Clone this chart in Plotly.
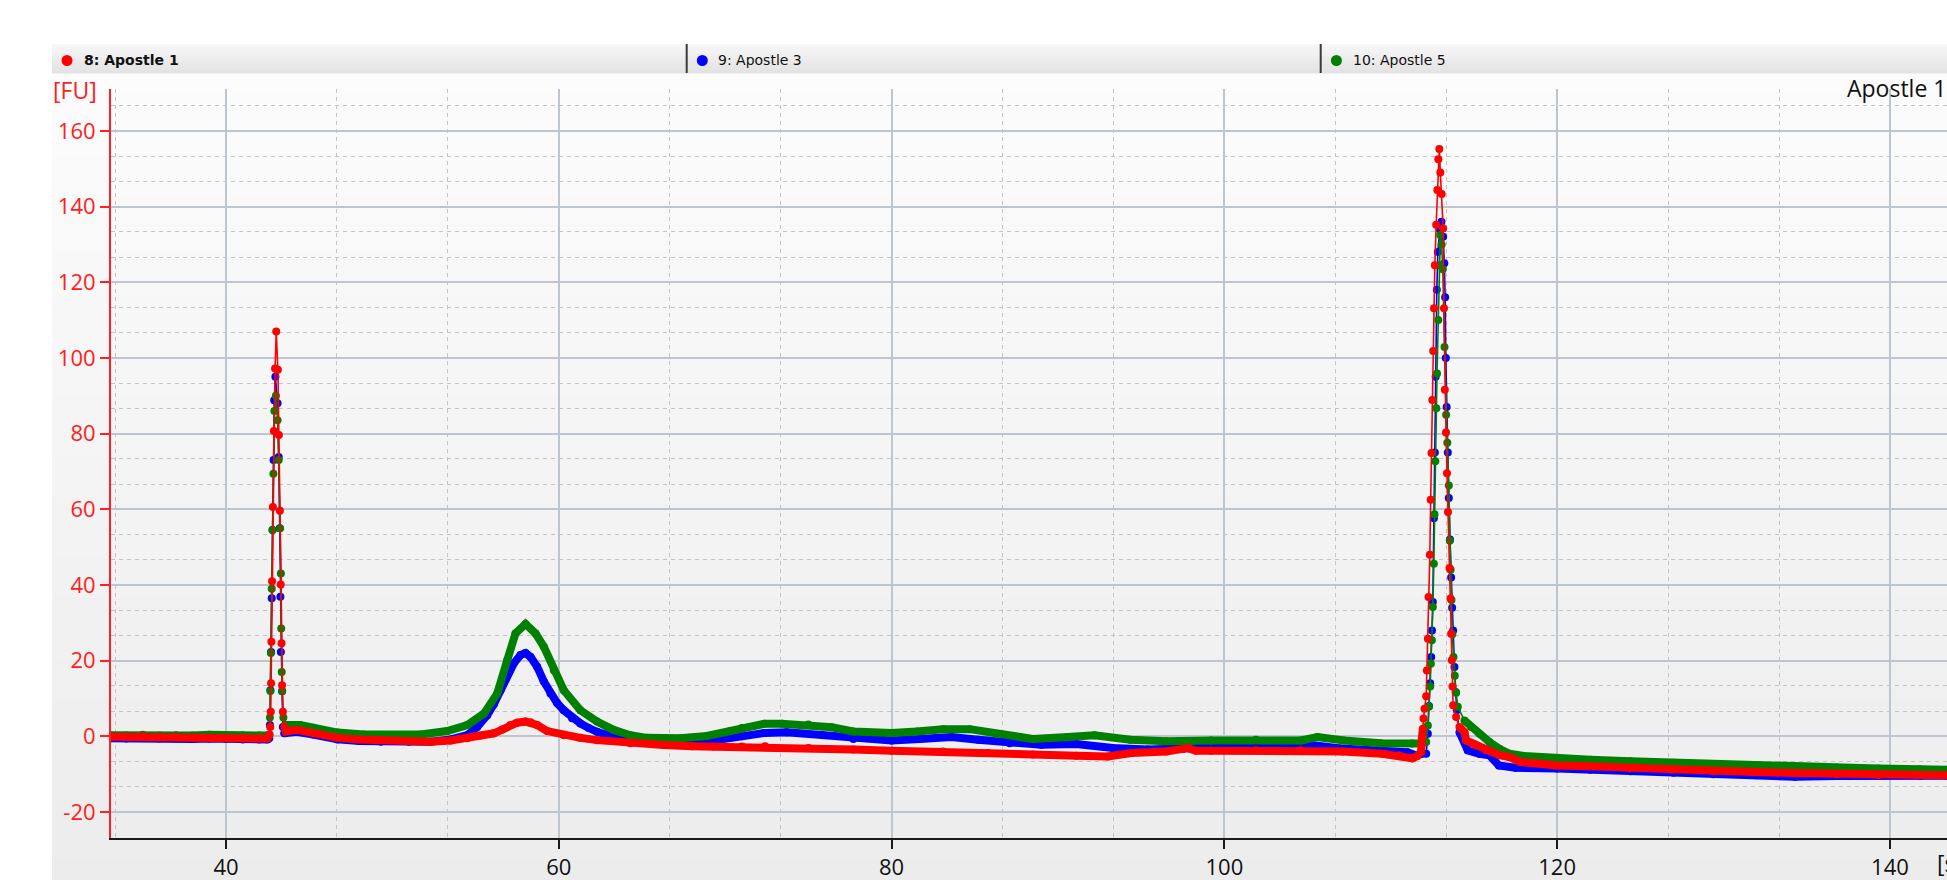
import plotly.graph_objects as go

# ---------------- data ----------------
series_names = ["8: Apostle 1", "9: Apostle 3", "10: Apostle 5"]

red_x = [33.1, 34, 35, 36, 37, 38, 39, 40, 41, 42, 42.5, 42.62, 42.66, 42.69, 42.71, 42.73, 42.77, 42.82,
         42.88, 42.95, 43.02, 43.12, 43.18, 43.24, 43.29, 43.34, 43.37, 43.42, 43.51, 43.6, 44.25, 45.25,
         46.7, 48, 49.3, 51, 52.3, 53.5, 54.5, 55.3, 56.1, 56.6, 57.1, 57.5, 58.0, 58.3, 58.7, 59.3, 60.3,
         61.3, 62.3, 64.3, 66.3, 68, 69.3, 71, 72.4, 75, 77.7, 80, 83.1, 85.8, 88.5, 91.1, 93.0, 94.4,
         96.5, 97.8, 98.3, 99.2, 101.9, 104.6, 107.1, 109.5, 110.5, 111.3, 111.6, 111.83, 111.87, 111.93,
         111.97, 112.03, 112.13, 112.17, 112.23, 112.27, 112.35, 112.4, 112.45, 112.5, 112.55, 112.6,
         112.65, 112.73, 112.8, 112.86, 112.92, 112.98, 113.06, 113.15, 113.2, 113.25, 113.32, 113.38,
         113.44, 113.53, 113.59, 113.63, 113.67, 113.71, 113.75, 113.93, 114.13, 114.43, 114.53, 115.13,
         115.73, 116.53, 117.13, 117.8, 118.8, 120, 121.9, 124.4, 126.9, 129.4, 131.9, 134.3, 136.8,
         139.3, 141.8, 143.4]
red_y = [-0.1, -0.2, 0.0, -0.3, -0.2, -0.4, -0.3, -0.5, -0.5, -0.6, -0.6, 0.5, 2.5, 6.5, 14, 25, 41, 60.6,
         80.7, 97.2, 107, 96.9, 79.6, 59.6, 40.1, 24.6, 13.5, 6.5, 2.5, 1.3, 1.7, 0.8,
         -0.4, -0.8, -1.0, -1.3, -1.4, -1.1, -0.5, 0.2, 0.8, 1.8, 3.0, 3.6, 3.9, 3.7, 3.0, 1.4, 0.3,
         -0.4, -1.0, -1.8, -2.3, -2.6, -2.7, -2.7, -2.6, -3.1, -3.5, -3.8, -4.0, -4.4, -4.8, -5.1, -5.3, -4.4,
         -4.0, -3.1, -3.8, -3.8, -3.7, -3.7, -4.0, -4.6, -5.0, -5.8, -5.2, -4.1, -0.6, 2.0,
         4.7, 7.3, 10.6, 17.4, 25.8, 36.8, 48, 62.5, 74.9, 88.9, 101.8, 113.1,
         124.5, 135.2, 144.4, 152.5, 155.2, 149, 143.3, 134.2, 113.1, 91.6, 80.3, 69.5,
         59.3, 44.5, 36.4, 27.1, 20.1, 13.2, 8.2, 5.1, 2.5, 1.1, -1.1, -2.4,
         -3.7, -5.0, -5.5, -6.8, -7.2, -7.7, -7.9, -8.4, -8.8, -9.2, -9.4, -9.7, -10.0,
         -10.3, -10.3, -10.3]

blue_x = [33.1, 34, 35, 36, 37, 38, 39, 40, 41, 42, 42.5, 42.6, 42.64, 42.67, 42.71, 42.75, 42.8, 42.86,
          42.9, 42.97, 43.1, 43.17, 43.23, 43.27, 43.3, 43.37, 43.42, 43.5, 44.25, 45.25, 46.7, 48, 49.3,
          51, 52.3, 53.5, 54.5, 55.1, 55.7, 56.1, 56.5, 56.9, 57.3, 57.7, 58.0, 58.3, 58.7, 59.1, 59.5,
          59.9, 60.3, 60.8, 61.3, 61.8, 62.3, 63.3, 64.3, 65.3, 67.3, 69.3, 71.0, 72.35, 73.7, 75.8, 77.7,
          80, 81.7, 83.6, 85.2, 87.1, 89.0, 91.1, 93.3, 95.4, 97.5, 99.2, 101.9, 104.6, 105.1, 107.0,
          109.5, 110.5, 111.0, 111.5, 111.9, 112.13, 112.23, 112.3, 112.37, 112.43, 112.48, 112.53,
          112.59, 112.65, 112.7, 112.77, 112.83, 112.95, 113.05, 113.15, 113.22, 113.27, 113.31, 113.36,
          113.43, 113.49, 113.56, 113.63, 113.69, 113.75, 113.83, 113.9, 113.97, 114.13, 114.63, 115.33,
          115.93, 116.5, 117.5, 120, 122, 124.4, 127, 129.4, 132, 134.3, 136.8, 139.3, 141.8, 143.4]
blue_y = [-0.5, -0.6, -0.4, -0.6, -0.5, -0.7, -0.6, -0.7, -0.8, -0.8, -0.8, -0.5, 3, 12.2, 22.3, 36.5, 54.5, 73,
          88.8, 95, 88, 73.8, 55, 36.9, 22.3, 11.9, 2.5, 0.8, 1.2, 0.5, -0.8, -1.2, -1.4,
          -1.4, -1.4, -0.8, 0.3, 2.5, 5.6, 8.5, 12.2, 16, 19.3, 21.5, 22, 21, 18.4, 14.5, 11.3,
          8.8, 6.9, 4.8, 3.4, 2.2, 1.2, -0.1, -0.6, -1.0, -1.4, -1.1, 0, 0.9, 1.1, 0.4, -0.7,
          -1.1, -0.7, -0.2, -0.9, -1.8, -2.2, -2.0, -3.1, -3.5, -3.3, -3.1, -2.9, -2.5, -2.2, -3.2,
          -3.9, -4.5, -4.2, -5.0, -4.6, -4.6, 0.7, 8, 14, 21, 28, 35.5,
          57.6, 75, 95, 118, 128, 134, 136, 132, 125, 116, 100, 87,
          75, 63, 52, 42, 34, 28, 18.3, 11.7, 6.9, 1.1, -3.7, -4.6,
          -5.0, -7.7, -8.3, -8.5, -8.8, -9.2, -9.6, -10.0, -10.3, -10.7, -10.5, -10.5, -10.4, -10.4]

green_x = [33.1, 34, 35, 36, 37, 38, 39, 40, 41, 42, 42.5, 42.6, 42.64, 42.67, 42.7, 42.75, 42.8, 42.85,
           42.91, 43.0, 43.1, 43.17, 43.25, 43.3, 43.32, 43.35, 43.38, 43.45, 43.55, 44.0, 44.45, 45.25,
           46.7, 48.25, 49.9, 51.7, 53.3, 54.5, 55.5, 56.3, 56.9, 57.4, 58.0, 58.6, 59.1, 59.7, 60.3,
           61.3, 62.3, 63.3, 64.3, 65.3, 67.3, 68.9, 70.3, 71.0, 72.35, 73.4, 75.0, 76.4, 77.7, 80,
           81.5, 83.1, 84.7, 86.3, 88.5, 90.6, 92.2, 94.35, 96.5, 99.2, 101.9, 104.6, 105.6, 107.2,
           109.4, 111.3, 111.9, 112.13, 112.23, 112.29, 112.37, 112.41, 112.47, 112.53, 112.59, 112.63,
           112.68, 112.74, 112.78, 112.86, 112.92, 112.98, 113.06, 113.13, 113.23, 113.33, 113.4, 113.49,
           113.55, 113.6, 113.65, 113.7, 113.77, 113.85, 113.93, 114.03, 114.43, 114.83, 115.33, 115.93,
           116.53, 117.13, 118, 120, 122, 124.4, 127, 129.4, 132, 134.3, 136.8, 139.3, 141.8, 143.4]
green_y = [0.3, 0.2, 0.4, 0.2, 0.3, 0.2, 0.4, 0.2, 0.3, 0.2, 0.2, 0.2, 5, 12, 22, 39, 54.5, 69.4,
           86, 90, 83.5, 73, 55, 43, 28.5, 17, 12, 5, 3.0, 3.0, 3.0, 2.3,
           1.0, 0.5, 0.3, 0.5, 1.4, 3.0, 6.0, 11.3, 20.1, 27.2, 29.7, 27.2, 23.7, 17.5, 12.2,
           6.9, 3.9, 1.7, 0.3, -0.4, -0.5, 0.1, 1.4, 2.2, 3.3, 3.3, 3.1, 2.4, 1.3, 0.9,
           1.3, 1.9, 1.9, 0.6, -0.7, -0.2, 0.3, -0.9, -1.3, -1.1, -0.9, -1.1, -0.2, -1.1,
           -1.8, -1.9, -1.9, -1.5, 2.9, 7.8, 13.2, 19.2, 25.4, 34.2, 45.6, 58.7,
           72.7, 86.7, 95.9, 110, 124.5, 132.5, 130, 123.4, 102.9, 85, 77.6, 66.3,
           51.7, 44, 36, 27, 21, 16, 11.5, 7.8, 4.2, 2.5, 0.7, -1.5,
           -3.3, -4.6, -5.2, -5.9, -6.2, -6.6, -7.0, -7.4, -7.6, -7.9, -8.2, -8.5, -8.7, -8.8]

x_tick_vals = [40, 60, 80, 100, 120, 140]
y_tick_vals = [-20, 0, 20, 40, 60, 80, 100, 120, 140, 160]
y_tick_text = ["-20", "0", "20", "40", "60", "80", "100", "120", "140", "160"]

# ---------------- layout geometry (pixels) ----------------
W, H = 1947, 880
PL, PR, PT, PB = 111, 1947, 89, 838   # plot area edges in px
X_RANGE = [33.09, 143.43]
Y_RANGE = [-26.86, 171.06]


def px_x(p):
    return (p - PL) / (PR - PL)


def px_y(p):
    return (PB - p) / (PB - PT)


SPIKES = [(42.58, 43.48), (111.95, 114.1)]


def in_spike(v):
    return any(a < v < b for a, b in SPIKES)


fig = go.Figure()

series = [
    (series_names[1], blue_x, blue_y, "#0000ff"),
    (series_names[2], green_x, green_y, "#008000"),
    (series_names[0], red_x, red_y, "#ff0000"),
]
for name, xs, ys, col in series:
    band_y = [None if in_spike(xv) else yv for xv, yv in zip(xs, ys)]
    fig.add_trace(go.Scatter(x=xs, y=band_y, mode="lines", name=name, showlegend=False,
                             connectgaps=False, hoverinfo="skip",
                             line=dict(color=col, width=8)))
    fig.add_trace(go.Scatter(x=xs, y=ys, mode="lines+markers", name=name, showlegend=False,
                             line=dict(color=col, width=1.6),
                             marker=dict(color=col, size=8, line=dict(width=0))))

shapes = []


def lerp(c0, c1, t):
    return tuple(int(round(a + (b - a) * t)) for a, b in zip(c0, c1))


# panel gradient
N = 40
top, bot = 73, 880
for i in range(N):
    y0 = top + (bot - top) * i / N
    y1 = top + (bot - top) * (i + 1) / N
    c = lerp((252, 252, 252), (236, 236, 236), (i + 0.5) / N)
    shapes.append(dict(type="rect", xref="paper", yref="paper", layer="below",
                       x0=px_x(52), x1=px_x(1950), y0=px_y(y1 + 0.6), y1=px_y(y0),
                       fillcolor="rgb(%d,%d,%d)" % c, line=dict(width=0)))
# legend band gradient
N2 = 12
top2, bot2 = 44, 73
for i in range(N2):
    y0 = top2 + (bot2 - top2) * i / N2
    y1 = top2 + (bot2 - top2) * (i + 1) / N2
    c = lerp((248, 248, 248), (226, 226, 226), (i + 0.5) / N2)
    shapes.append(dict(type="rect", xref="paper", yref="paper", layer="below",
                       x0=px_x(52), x1=px_x(1950), y0=px_y(y1 + 0.6), y1=px_y(y0),
                       fillcolor="rgb(%d,%d,%d)" % c, line=dict(width=0)))

# legend separators
for sx in (686.7, 1320.7):
    shapes.append(dict(type="line", xref="paper", yref="paper",
                       x0=px_x(sx), x1=px_x(sx), y0=px_y(73), y1=px_y(44),
                       line=dict(color="#3a3a3a", width=2)))

legend_items = [
    (67.0, 82.0, "<b>" + series_names[0] + "</b>", "#ff0000"),
    (702.3, 716.0, series_names[1], "#0000ff"),
    (1336.4, 1351.0, series_names[2], "#008000"),
]
annotations = []
for dot_x, text_x, txt, col in legend_items:
    shapes.append(dict(type="circle", xref="paper", yref="paper",
                       xsizemode="pixel", ysizemode="pixel",
                       xanchor=px_x(dot_x), yanchor=px_y(60.5),
                       x0=-5.5, x1=5.5, y0=-5.5, y1=5.5,
                       fillcolor=col, line=dict(width=0)))
    annotations.append(dict(xref="paper", yref="paper", x=px_x(text_x), y=px_y(60.5),
                            xanchor="left", yanchor="middle", showarrow=False, text=txt,
                            font=dict(family="DejaVu Sans", size=14, color="#111111")))

annotations.append(dict(xref="paper", yref="paper", x=px_x(51), y=px_y(89.5),
                        xanchor="left", yanchor="middle", showarrow=False, text="[FU]",
                        font=dict(family="Open Sans", size=23, color="#ff2020")))
annotations.append(dict(xref="paper", yref="paper", x=px_x(1948), y=px_y(88),
                        xanchor="right", yanchor="middle", showarrow=False, text="Apostle 1",
                        font=dict(family="Open Sans", size=23, color="#111111")))
annotations.append(dict(xref="paper", yref="paper", x=px_x(1935), y=px_y(863),
                        xanchor="left", yanchor="middle", showarrow=False, text="[s]",
                        font=dict(family="Open Sans", size=23, color="#111111")))

MAJOR = "#bcc5d0"
MINOR = "#c4c4c4"

fig.update_layout(
    width=W, height=H,
    margin=dict(l=PL, r=W - PR, t=PT, b=H - PB, pad=0, autoexpand=False),
    paper_bgcolor="white",
    plot_bgcolor="rgba(0,0,0,0)",
    showlegend=False,
    font=dict(family="Open Sans", size=22, color="#111111"),
    shapes=shapes,
    annotations=annotations,
    xaxis=dict(range=X_RANGE, tickmode="array", tickvals=x_tick_vals,
               showgrid=True, gridcolor=MAJOR, gridwidth=1.6, zeroline=False,
               showline=True, linecolor="#1a1a1a", linewidth=2,
               ticks="outside", ticklen=9, tickwidth=2, tickcolor="#1a1a1a",
               tickfont=dict(family="Open Sans", size=22, color="#111111"),
               minor=dict(tickmode="linear", tick0=0, dtick=20 / 3, showgrid=True,
                          gridcolor=MINOR, gridwidth=1, griddash="4px,4px", ticks="")),
    yaxis=dict(range=Y_RANGE, tickmode="array", tickvals=y_tick_vals, ticktext=y_tick_text,
               showgrid=True, gridcolor=MAJOR, gridwidth=1.6, zeroline=False,
               showline=True, linecolor="#ff2020", linewidth=2,
               ticks="outside", ticklen=9, tickwidth=1.5, tickcolor="#ff2020",
               tickfont=dict(family="Open Sans", size=22, color="#ff2020"),
               minor=dict(tickmode="linear", tick0=0, dtick=20 / 3, showgrid=True,
                          gridcolor=MINOR, gridwidth=1, griddash="4px,4px", ticks="")),
)

fig.write_html("out.html",
               config={"displayModeBar": False},
               post_script="document.body.style.margin='0px';document.body.style.overflow='hidden';")
